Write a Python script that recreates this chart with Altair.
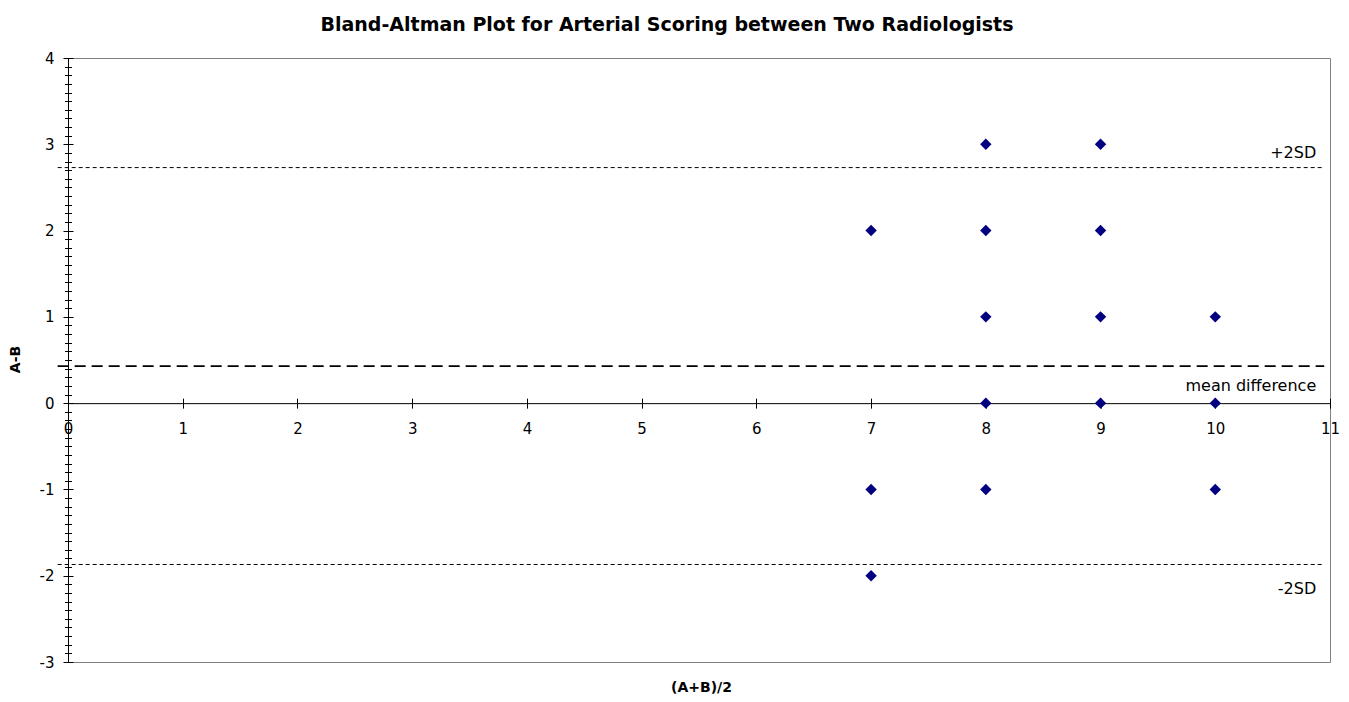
import altair as alt
import pandas as pd

# ---- data ----
mean_x = [7, 7, 7, 8, 8, 8, 8, 8, 9, 9, 9, 9, 10, 10, 10]
diff_y = [2, -1, -2, 3, 2, 1, 0, -1, 3, 2, 1, 0, 1, 0, -1]

sd_names = ["+2SD", "-2SD"]
sd_values = [2.73, -1.87]
mean_value = [0.43]
ref_x_start = -0.09
ref_x_end = 10.95

label_text = ["+2SD", "mean difference", "-2SD"]
label_x = [10.88, 10.88, 10.88]
label_y = [2.90, 0.20, -2.15]

x_ticks = list(range(0, 12))
y_ticks = list(range(-3, 5))
y_minor = [round(-3 + 0.1 * i, 1) for i in range(71)]

# ---- layout ----
W, H = 1262, 604
FONT = "DejaVu Sans"
x_axis_shift = H * 3 / 7      # distance from bottom edge to y=0
y0_from_top = H * 4 / 7

points = pd.DataFrame({"x": mean_x, "y": diff_y})
sd_df = pd.DataFrame({"name": sd_names, "v": sd_values,
                      "x0": [ref_x_start] * 2, "x1": [ref_x_end] * 2})
mean_df = pd.DataFrame({"v": mean_value, "x0": [ref_x_start], "x1": [ref_x_end]})
lab_df = pd.DataFrame({"t": label_text, "x": label_x, "y": label_y})

xs = alt.Scale(domain=[0, 11], nice=False, zero=False)
ys = alt.Scale(domain=[-3, 4], nice=False, zero=False)

common = dict(grid=False, labelFlush=False, labelOverlap=False,
              domainColor="black", tickColor="black", labelColor="black",
              labelFont=FONT, tickWidth=1, domainWidth=1)

pts = alt.Chart(points).mark_point(
    shape="diamond", filled=True, color="#000080", size=130, opacity=1
).encode(
    x=alt.X("x:Q", scale=xs, title=None, axis=alt.Axis(
        orient="bottom", offset=-x_axis_shift, values=x_ticks, tickSize=5,
        labelPadding=13, labelFontSize=15, labelExpr="'' + datum.value",
        **common)),
    y=alt.Y("y:Q", scale=ys, axis=alt.Axis(
        orient="left", values=y_ticks, tickSize=5, labelPadding=9,
        labelFontSize=15, labelExpr="'' + datum.value",
        title="A-B", titleFont=FONT, titleFontSize=14,
        titleFontWeight="bold", titleColor="black", titleAngle=270,
        titleX=-53, titleY=301, titleAlign="center", titleBaseline="middle",
        **common)),
)

sd = alt.Chart(sd_df).mark_rule(color="black", strokeWidth=1, strokeDash=[4, 3]).encode(
    x=alt.X("x0:Q", scale=xs, title=None, axis=alt.Axis(
        orient="top", offset=-y0_from_top, values=x_ticks, tickSize=5,
        labels=False, domain=False, **common)),
    x2="x1:Q",
    y=alt.Y("v:Q", scale=ys, title=None, axis=alt.Axis(
        orient="right", offset=-W, values=y_ticks, tickSize=5,
        labels=False, domain=False, **common)),
)

mean = alt.Chart(mean_df).mark_rule(color="black", strokeWidth=1.7, strokeDash=[11, 6]).encode(
    x=alt.X("x0:Q", scale=xs, axis=alt.Axis(
        orient="bottom", ticks=False, labels=False, domain=False, grid=False,
        title="(A+B)/2", titleFont=FONT, titleFontSize=14, titleFontWeight="bold",
        titleColor="black", titleX=633, titleY=25, titleAlign="center",
        titleBaseline="middle")),
    x2="x1:Q",
    y=alt.Y("v:Q", scale=ys, title=None, axis=alt.Axis(
        orient="left", values=y_minor, tickSize=3.5, labels=False,
        domain=False, **common)),
)

labels = alt.Chart(lab_df).mark_text(
    align="right", baseline="middle", font=FONT, fontSize=16, color="black"
).encode(
    x=alt.X("x:Q", scale=xs, axis=None),
    y=alt.Y("y:Q", scale=ys, title=None, axis=alt.Axis(
        orient="right", offset=-W, values=y_minor, tickSize=3.5,
        labels=False, domain=False, **common)),
    text="t:N",
)

chart = alt.layer(sd, mean, labels, pts).resolve_axis(
    x="independent", y="independent"
).properties(
    width=W, height=H,
    title=alt.Title(
        "Bland-Altman Plot for Arterial Scoring between Two Radiologists",
        font=FONT, fontSize=19, fontWeight="bold", color="black",
        anchor="middle", frame="group", dx=-32, offset=1, baseline="alphabetic"),
    autosize=alt.AutoSizeParams(type="none"),
    padding={"left": 60, "top": 50, "right": 11, "bottom": 32},
).configure_view(stroke="#808080", strokeWidth=1)

chart.save("out.html", embed_options={"renderer": "svg", "actions": False})
